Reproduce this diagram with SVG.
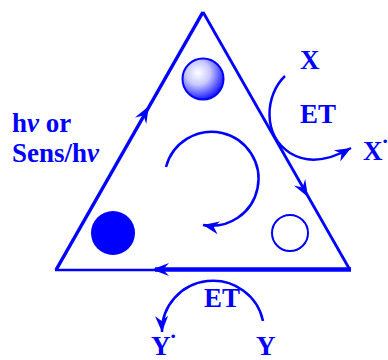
<svg xmlns="http://www.w3.org/2000/svg" width="388" height="360" viewBox="0 0 388 360">
<style>
.t{font-family:"Liberation Serif","Times New Roman",serif;font-weight:bold;font-size:27px;fill:#0000FF}
.ln{fill:none;stroke:#0000FF;stroke-linecap:butt}
.ah{fill:#0000FF}
</style>
<defs>
<radialGradient id="sph" cx="0.38" cy="0.35" r="0.65">
<stop offset="0" stop-color="#FFFFFF"/>
<stop offset="0.45" stop-color="#C8C8FF"/>
<stop offset="1" stop-color="#2020FF"/>
</radialGradient>
<marker id="arr" viewBox="-17 -8 18 16" refX="0" refY="0" markerWidth="18" markerHeight="16" markerUnits="userSpaceOnUse" orient="auto">
<path d="M0,0 L-16,-6.5 L-11,0 L-16,6.5 z" fill="#0000FF"/>
</marker>
<path id="head" d="M0,0 L-17,-6.5 L-11,0 L-17,6.5 z"/>
</defs>
<g id="triangle">
<line class="ln" x1="56" y1="270" x2="203" y2="12" stroke-width="3.5"/>
<line class="ln" x1="203" y1="12" x2="350" y2="270" stroke-width="2.8"/>
<line class="ln" x1="55" y1="270" x2="160" y2="270" stroke-width="2.5"/>
<line class="ln" x1="155" y1="269.5" x2="351" y2="269.5" stroke-width="4.5"/>
</g>
<g id="connectors">
<use href="#head" class="ah" transform="translate(149,106) rotate(-60.3)"/>
<use href="#head" class="ah" transform="translate(308,197) rotate(60.3)"/>
<use href="#head" class="ah" transform="translate(152,269.5) rotate(180)"/>
<path class="ln" stroke-width="2.5" d="M166,167 A47,47 0 1 1 203,225" marker-end="url(#arr)"/>
<path class="ln" stroke-width="2.5" d="M285,76 C265,95 262,135 290,153 C308,164 330,160 351,148" marker-end="url(#arr)"/>
<path class="ln" stroke-width="2.5" d="M263,321 A51,50 0 0 0 162,332" marker-end="url(#arr)"/>
</g>
<g id="sphere"><circle cx="203" cy="79" r="20.5" fill="url(#sph)" stroke="#0000FF" stroke-width="2"/></g>
<g id="filled"><circle cx="113" cy="233" r="22" fill="#0000FF"/></g>
<g id="open"><circle cx="290" cy="233" r="18" fill="none" stroke="#0000FF" stroke-width="2"/></g>
<g id="labels">
<text class="t" x="12" y="132">h<tspan font-style="italic">ν</tspan> or</text>
<text class="t" x="12" y="162">Sens/h<tspan font-style="italic">ν</tspan></text>
<text class="t" x="300" y="69">X</text>
<text class="t" x="300" y="123">ET</text>
<text class="t" x="363" y="160">X<tspan font-size="22" dx="-1" dy="-12">·</tspan></text>
<text class="t" x="204" y="307">ET</text>
<text class="t" x="256" y="355">Y</text>
<text class="t" x="151" y="355">Y<tspan font-size="22" dx="-1" dy="-12">·</tspan></text>
</g>
</svg>
